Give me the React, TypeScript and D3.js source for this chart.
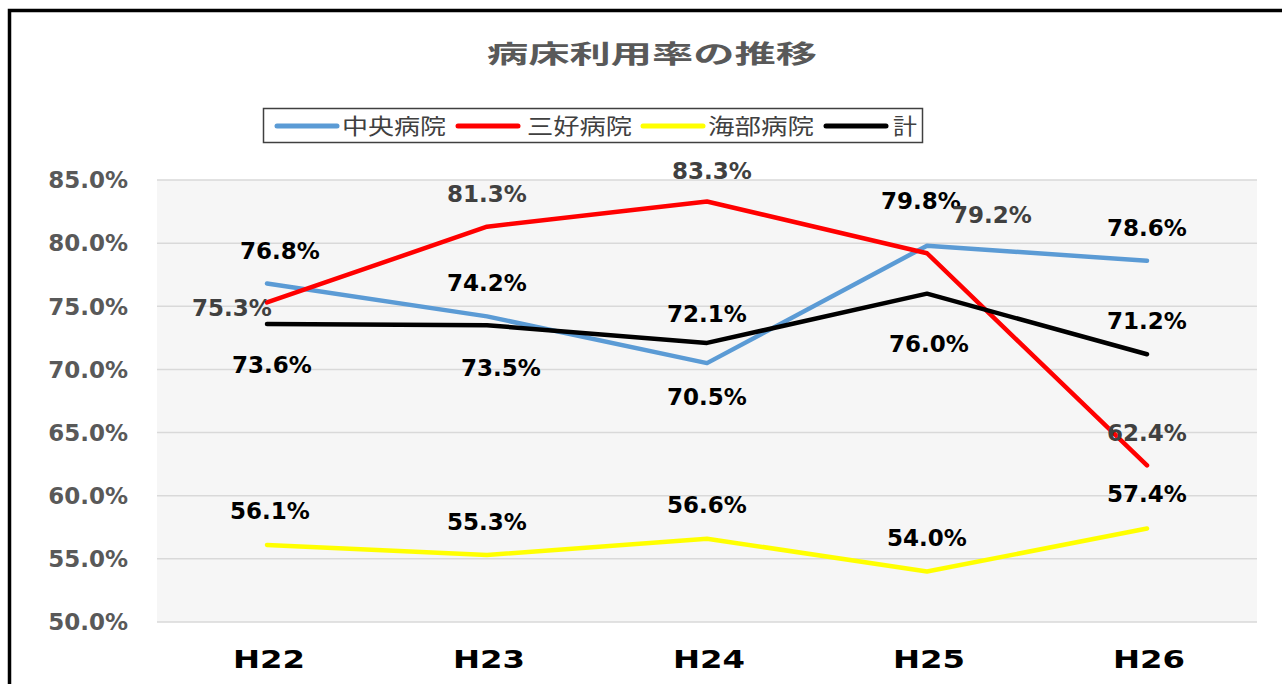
import React from "react";
import * as d3 from "d3";

const categories = ["H22", "H23", "H24", "H25", "H26"];
const seriesNames = ["中央病院", "三好病院", "海部病院", "計"];
const chuoValues = [76.8, 74.2, 70.5, 79.8, 78.6];
const miyoshiValues = [75.3, 81.3, 83.3, 79.2, 62.4];
const kaifuValues = [56.1, 55.3, 56.6, 54.0, 57.4];
const totalValues = [73.6, 73.5, 72.1, 76.0, 71.2];
const yTicks = [50, 55, 60, 65, 70, 75, 80, 85];
const title = "病床利用率の推移";

// styles (kept separate from data)
const seriesColors = ["#5B9BD5", "#FF0000", "#FFFF00", "#000000"];
const labelColors = ["#000000", "#404040", "#000000", "#000000"];
const labelOffsets: number[][][] = [
  [[13, -33], [0, -34], [0, 34], [-6, -45], [0, -33]],
  [[-35, 5], [0, -33], [5, -31], [65, -39], [0, -33]],
  [[3, -34], [0, -33], [0, -34], [0, -34], [0, -35]],
  [[5, 41], [14, 42], [0, -29], [2, 50], [0, -34]],
];
const legendLayout = [
  { lx: 277, tx: 342, tw: 104 },
  { lx: 458, tx: 527, tw: 105 },
  { lx: 643, tx: 708, tw: 106 },
  { lx: 826, tx: 893, tw: 24 },
];

const NUM_FONT = "'DejaVu Sans', Verdana, sans-serif";
const CJK_FONT = "'Noto Sans CJK JP', 'Noto Sans', sans-serif";

export default function App() {
  const W = 1282;
  const H = 684;
  const plot = { left: 157, right: 1257, top: 180, bottom: 622 };
  const x = d3.scaleBand<string>().domain(categories).range([plot.left, plot.right]);
  const y = d3.scaleLinear().domain([50, 85]).range([plot.bottom, plot.top]);
  const cx = (c: string) => (x(c) as number) + x.bandwidth() / 2;
  const allSeries = [chuoValues, miyoshiValues, kaifuValues, totalValues];
  const line = d3
    .line<number>()
    .x((_, i) => cx(categories[i]))
    .y((v) => y(v));

  return (
    <svg
      width={W}
      height={H}
      style={{ position: "absolute", left: 0, top: 0, background: "#fff" }}
    >
      <rect x={0} y={0} width={W} height={H} fill="#fff" />
      {/* outer frame (extends beyond crop) */}
      <path d={`M9.5,${H + 10} V10.5 H${W + 10}`} fill="none" stroke="#000" strokeWidth={3.5} />

      {/* title */}
      <text
        x={487}
        y={63}
        textLength={330}
        lengthAdjust="spacingAndGlyphs"
        fontFamily={CJK_FONT}
        fontWeight="bold"
        fontSize={25}
        fill="#595959"
      >
        {title}
      </text>

      {/* legend */}
      <rect x={263.5} y={108.5} width={659} height={34} fill="#fff" stroke="#404040" strokeWidth={1.5} />
      {seriesNames.map((n, i) => (
        <g key={n}>
          <line
            x1={legendLayout[i].lx}
            x2={legendLayout[i].lx + 60}
            y1={126}
            y2={126}
            stroke={seriesColors[i]}
            strokeWidth={5}
            strokeLinecap="round"
          />
          <text
            x={legendLayout[i].tx}
            y={134}
            textLength={legendLayout[i].tw}
            lengthAdjust="spacingAndGlyphs"
            fontFamily={CJK_FONT}
            fontSize={22}
            fill="#404040"
          >
            {n}
          </text>
        </g>
      ))}

      {/* plot area */}
      <rect
        x={plot.left}
        y={plot.top}
        width={plot.right - plot.left}
        height={plot.bottom - plot.top}
        fill="#f6f6f6"
      />
      {yTicks.map((t) => (
        <g key={t}>
          <line x1={plot.left} x2={plot.right} y1={y(t)} y2={y(t)} stroke="#d9d9d9" strokeWidth={1.5} />
          <text
            x={128}
            y={y(t)}
            dy="0.36em"
            textAnchor="end"
            fontFamily={NUM_FONT}
            fontWeight="bold"
            fontSize={23}
            fill="#595959"
          >
            {t.toFixed(1) + "%"}
          </text>
        </g>
      ))}
      {categories.map((c) => (
        <text
          key={c}
          x={cx(c) + 2}
          y={668}
          textAnchor="middle"
          textLength={72}
          lengthAdjust="spacingAndGlyphs"
          fontFamily={NUM_FONT}
          fontWeight="bold"
          fontSize={24}
          fill="#000"
        >
          {c}
        </text>
      ))}

      {/* lines */}
      {allSeries.map((vals, i) => (
        <path
          key={i}
          d={line(vals) as string}
          fill="none"
          stroke={seriesColors[i]}
          strokeWidth={4.5}
          strokeLinejoin="round"
          strokeLinecap="round"
        />
      ))}

      {/* data labels */}
      {allSeries.map((vals, i) =>
        vals.map((v, j) => (
          <text
            key={`${i}-${j}`}
            x={cx(categories[j]) + labelOffsets[i][j][0]}
            y={y(v) + labelOffsets[i][j][1]}
            dy="0.36em"
            textAnchor="middle"
            fontFamily={NUM_FONT}
            fontWeight="bold"
            fontSize={23}
            fill={labelColors[i]}
          >
            {v.toFixed(1) + "%"}
          </text>
        ))
      )}
    </svg>
  );
}
